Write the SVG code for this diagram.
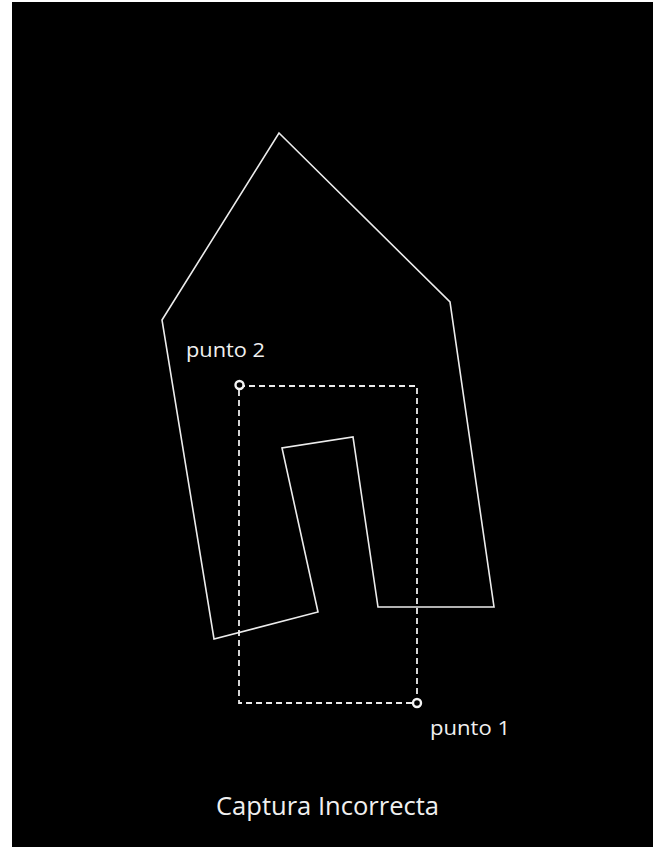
<svg xmlns="http://www.w3.org/2000/svg" width="659" height="847" viewBox="0 0 659 847">
  <style>
    .shape { fill: none; stroke: #ececec; stroke-width: 1.6; stroke-linejoin: miter; }
    .dash { fill: none; stroke: #ececec; stroke-width: 1.8; stroke-dasharray: 6 4; }
    .pt { fill: #000; stroke: #f4f4f4; stroke-width: 2.4; }
    .lbl { font-family: "Open Sans", "Liberation Sans", sans-serif; fill: #f0f0f0; }
  </style>
  <rect x="0" y="0" width="659" height="847" fill="#ffffff"/>
  <rect x="12" y="2" width="641" height="845" fill="#000000"/>
  <g id="casa">
    <polygon class="shape" points="279,133 450,302 494,607 378,607 353,437 282,448 318,612 214,639 162,320"/>
  </g>
  <g id="connectors">
    <rect class="dash" x="239" y="386" width="178" height="317"/>
  </g>
  <g id="punto2">
    <circle class="pt" cx="239.5" cy="385" r="4"/>
    <text class="lbl" x="186" y="357" font-size="20" textLength="79" lengthAdjust="spacingAndGlyphs">punto 2</text>
  </g>
  <g id="punto1">
    <circle class="pt" cx="417" cy="703" r="4"/>
    <text class="lbl" x="430" y="735" font-size="20" textLength="80" lengthAdjust="spacingAndGlyphs">punto 1</text>
  </g>
  <g id="titulo">
    <text class="lbl" x="216" y="815" font-size="25" textLength="223" lengthAdjust="spacingAndGlyphs">Captura Incorrecta</text>
  </g>
</svg>
